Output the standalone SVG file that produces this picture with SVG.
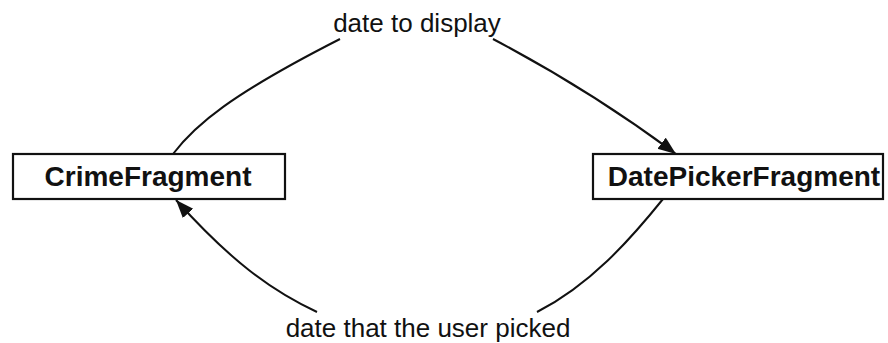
<svg xmlns="http://www.w3.org/2000/svg" width="888" height="343" viewBox="0 0 888 343">
<style>
.box{fill:#fff;stroke:#111;stroke-width:2.2}
.name{font-family:"Liberation Sans",Arial,sans-serif;font-weight:bold;font-size:28px;fill:#111;text-anchor:middle}
.lbl{font-family:"Liberation Sans",Arial,sans-serif;font-size:26px;fill:#111;text-anchor:middle}
.edge{fill:none;stroke:#111;stroke-width:2}
</style>
<defs>
<marker id="arr" markerUnits="userSpaceOnUse" markerWidth="20" markerHeight="16" refX="18" refY="7" orient="auto">
<path d="M0,0 L18,7 L0,14 Z" fill="#111"/>
</marker>
</defs>
<g id="connectors">
<path class="edge" d="M173,154 C195,125 230,95 340,39"/>
<path class="edge" d="M493,39 Q590,90 676,154" marker-end="url(#arr)"/>
<path class="edge" d="M663,199 C630,240 590,285 537,312"/>
<path class="edge" d="M317,312 C270,290 230,260 176,200" marker-end="url(#arr)"/>
<text class="lbl" x="417" y="32">date to display</text>
<text class="lbl" x="428" y="337">date that the user picked</text>
</g>
<g id="crimeFragment">
<rect class="box" x="13" y="154" width="272" height="45"/>
<text class="name" x="148" y="186">CrimeFragment</text>
</g>
<g id="datePickerFragment">
<rect class="box" x="593" y="154" width="290" height="45"/>
<text class="name" x="744" y="186">DatePickerFragment</text>
</g>
</svg>
